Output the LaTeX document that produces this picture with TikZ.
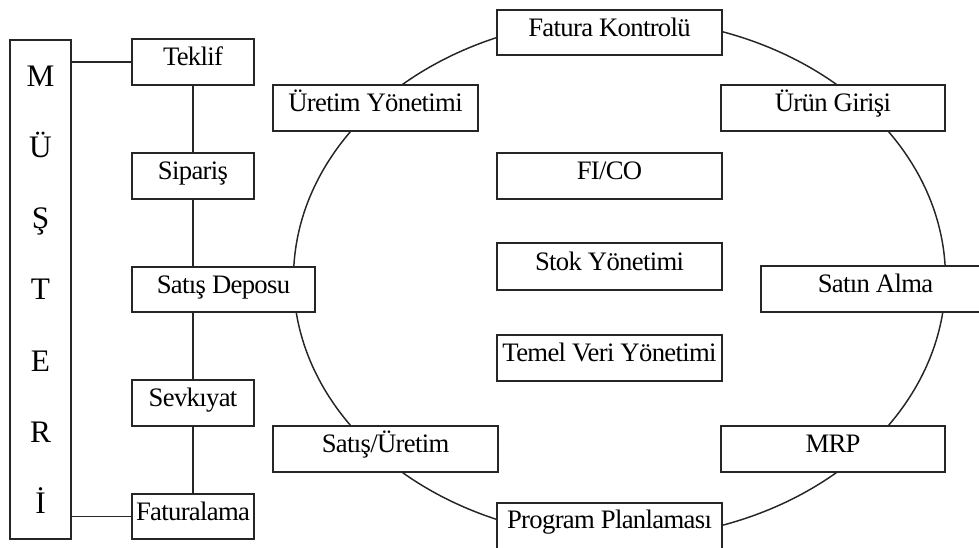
\documentclass[tikz,border=0pt]{standalone}
\usepackage{fontspec}
\setmainfont{Liberation Serif}[LetterSpace=-2.5]
\begin{document}
\begin{tikzpicture}[x=0.75pt,y=-0.75pt,
  every node/.style={font=\fontsize{20}{23}\selectfont},
  linecol/.style={draw=black!85},
  box/.style={linecol, fill=white, line width=1.35pt, inner sep=0pt,
    text height=12.5pt, text depth=6.5pt},
  smallbox/.style={box, minimum width=91.5pt, minimum height=34.5pt},
  widebox/.style={box, minimum width=168.75pt, minimum height=34.5pt},
  letter/.style={anchor=base, inner sep=0pt, font=\fontsize{23.5}{26}\selectfont},
  link/.style={linecol, line width=1.1pt}
]
\path[use as bounding box, clip] (0,0) rectangle (979,548);

% process cycle
\draw[link] (619.5,278.5) ellipse [x radius=244.5pt, y radius=195pt];

% customer column
\node[box, minimum width=45.75pt, minimum height=374.25pt] (musteri) at (40.5,289.5) {};
\node[letter] (l1) at (40.5,87)  {M};
\node[letter] (l2) at (40.5,158) {Ü};
\node[letter] (l3) at (40.5,229) {Ş};
\node[letter] (l4) at (40.5,300) {T};
\node[letter] (l5) at (40.5,372) {E};
\node[letter] (l6) at (40.5,443) {R};
\node[letter] (l7) at (40.5,514) {İ};

% sales chain
\node[smallbox] (teklif)  at (193,62)  {Teklif};
\node[smallbox] (siparis) at (193,176) {Sipariş};
\node[box, minimum width=137.25pt, minimum height=33.75pt] (depo) at (223.5,289.5) {Satış Deposu};
\node[smallbox] (sevk)    at (193,403) {Sevkıyat};
\node[smallbox, minimum height=33.75pt] (fatura) at (193,516.5) {Faturalama};

\draw[link] (musteri.east |- teklif) -- (teklif.west);
\draw[link] (musteri.east |- fatura) -- (fatura.west);
\draw[link] (teklif.south) -- (siparis.north);
\draw[link] (siparis.south) -- (siparis.south |- depo.north);
\draw[link] (sevk.north |- depo.south) -- (sevk.north);
\draw[link] (sevk.south) -- (fatura.north);

% modules on the cycle
\node[widebox, minimum height=33.75pt] (kontrol) at (609.5,32.5) {Fatura Kontrolü};
\node[box, minimum width=153.75pt, minimum height=34.5pt] (uretim) at (375.5,108) {Üretim Yönetimi};
\node[box, minimum width=168pt, minimum height=34.5pt] (urun) at (833,108) {Ürün Girişi};
\node[box, minimum width=171.75pt, minimum height=34.5pt] (satin) at (875.5,289) {Satın Alma};
\node[box, minimum width=168pt, minimum height=34.5pt] (mrp) at (833,449) {MRP};
\node[widebox, minimum height=42.75pt, text height=8pt, text depth=11.75pt] (program) at (609.5,531.5) {Program Planlaması};
\node[widebox] (satisuretim) at (385.5,449) {Satış/Üretim};

% core modules
\node[widebox] (fico)  at (609.5,176)   {FI/CO};
\node[widebox, minimum height=35.25pt] (stok) at (609.5,266.5) {Stok Yönetimi};
\node[widebox] (temel) at (609.5,358)   {Temel Veri Yönetimi};
\end{tikzpicture}
\end{document}
